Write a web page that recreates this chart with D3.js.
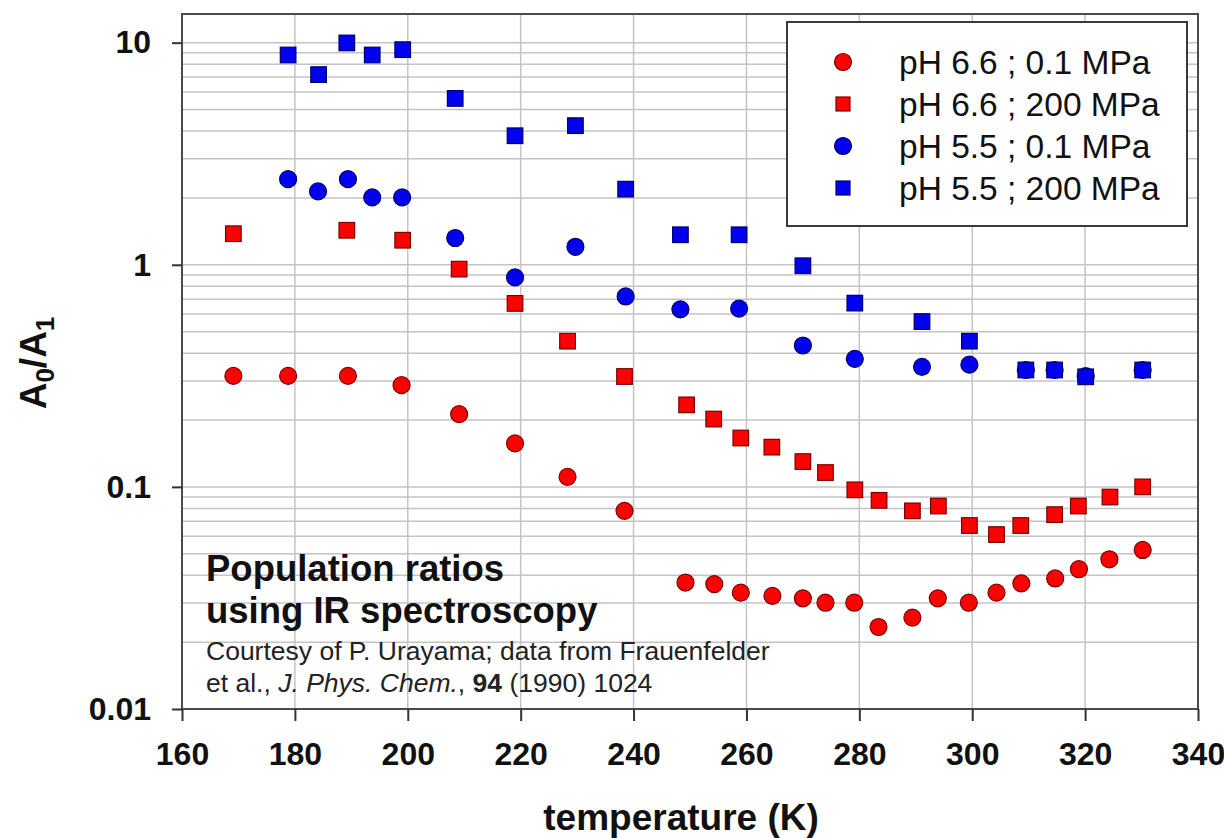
<!DOCTYPE html>
<html>
<head>
<meta charset="utf-8">
<script src="https://cdn.jsdelivr.net/npm/d3@7"></script>
<style>
  body { margin: 0; background: #fff; }
  svg { font-family: "Liberation Sans", Arial, sans-serif; }
</style>
</head>
<body>
<div id="chart"></div>
<script>
// ---- data ----
const xTicks = [160, 180, 200, 220, 240, 260, 280, 300, 320, 340];
const yTicks = [0.01, 0.1, 1, 10];
const yTickLabels = ["0.01", "0.1", "1", "10"];

const seriesNames = ["pH 6.6 ; 0.1 MPa", "pH 6.6 ; 200 MPa", "pH 5.5 ; 0.1 MPa", "pH 5.5 ; 200 MPa"];

// pH 6.6 ; 0.1 MPa (red circles)
const redCircleT = [169.1, 178.8, 189.4, 198.9, 209.1, 219.0, 228.3, 238.4, 249.2, 254.3, 259.0, 264.6, 270.0, 274.0, 279.1, 283.4, 289.4, 293.9, 299.4, 304.3, 308.7, 314.7, 318.9, 324.3, 330.2];
const redCircleV = [0.316, 0.316, 0.316, 0.287, 0.2125, 0.157, 0.111, 0.078, 0.0371, 0.0365, 0.0334, 0.0323, 0.0315, 0.0301, 0.0301, 0.0234, 0.0258, 0.0315, 0.0301, 0.0334, 0.0368, 0.0387, 0.0426, 0.0472, 0.052];

// pH 6.6 ; 200 MPa (red squares)
const redSquareT = [169.1, 189.2, 199.1, 209.1, 219.0, 228.3, 238.4, 249.4, 254.2, 259.0, 264.5, 270.0, 274.0, 279.2, 283.5, 289.4, 294.0, 299.5, 304.3, 308.6, 314.6, 318.8, 324.4, 330.2];
const redSquareV = [1.38, 1.43, 1.29, 0.956, 0.67, 0.453, 0.314, 0.234, 0.202, 0.166, 0.151, 0.130, 0.116, 0.097, 0.087, 0.078, 0.082, 0.067, 0.061, 0.067, 0.075, 0.082, 0.090, 0.100];

// pH 5.5 ; 0.1 MPa (blue circles)
const blueCircleT = [178.8, 184.1, 189.4, 193.7, 199.0, 208.4, 219.0, 229.7, 238.6, 248.3, 258.7, 270.0, 279.2, 291.1, 299.5, 309.5, 314.6, 320.1, 330.2];
const blueCircleV = [2.43, 2.14, 2.43, 2.01, 2.01, 1.32, 0.877, 1.205, 0.72, 0.63, 0.635, 0.433, 0.377, 0.347, 0.355, 0.336, 0.336, 0.315, 0.336];

// pH 5.5 ; 200 MPa (blue squares)
const blueSquareT = [178.8, 184.2, 189.2, 193.7, 199.1, 208.4, 219.0, 229.7, 238.6, 248.3, 258.7, 270.0, 279.2, 291.1, 299.5, 309.5, 314.6, 320.1, 330.2];
const blueSquareV = [8.80, 7.18, 9.97, 8.80, 9.30, 5.61, 3.81, 4.23, 2.19, 1.365, 1.365, 0.99, 0.672, 0.555, 0.453, 0.336, 0.336, 0.313, 0.336];

const series = [
    { name: seriesNames[0], t: redCircleT, v: redCircleV, shape: "circle", fill: "#ff0000", stroke: "#7a0000" },
    { name: seriesNames[1], t: redSquareT, v: redSquareV, shape: "square", fill: "#ff0000", stroke: "#7a0000" },
    { name: seriesNames[2], t: blueCircleT, v: blueCircleV, shape: "circle", fill: "#0000f0", stroke: "#00006a" },
    { name: seriesNames[3], t: blueSquareT, v: blueSquareV, shape: "square", fill: "#0000f0", stroke: "#00006a" }
];

// ---- layout ----
const W = 1224, H = 838;
const plot = { left: 182, right: 1198, top: 14, bottom: 709 };

const svg = d3.select("#chart")
    .append("svg")
    .attr("width", W)
    .attr("height", H);

const x = d3.scaleLinear()
    .domain([160, 340])
    .range([plot.left, plot.right]);

const y = d3.scaleLog()
    .domain([0.01, 13.46])
    .range([plot.bottom, plot.top]);

// grid: minor log lines 1..9 in each decade, vertical lines at x ticks
const gridVals = [];
[0.01, 0.1, 1, 10].forEach(d => {
    for (let k = 1; k <= 9; k++) {
        const v = d * k;
        if (v > 0.01 && v < 13.46) gridVals.push(v);
    }
});

svg.append("g")
    .selectAll("line")
    .data(gridVals)
    .join("line")
    .attr("x1", plot.left)
    .attr("x2", plot.right)
    .attr("y1", d => y(d))
    .attr("y2", d => y(d))
    .attr("stroke", "#c4c4c4")
    .attr("stroke-width", 1.5);

svg.append("g")
    .selectAll("line")
    .data(xTicks.slice(1, -1))
    .join("line")
    .attr("x1", d => x(d))
    .attr("x2", d => x(d))
    .attr("y1", plot.top)
    .attr("y2", plot.bottom)
    .attr("stroke", "#c4c4c4")
    .attr("stroke-width", 1.5);

// frame
svg.append("rect")
    .attr("x", plot.left)
    .attr("y", plot.top)
    .attr("width", plot.right - plot.left)
    .attr("height", plot.bottom - plot.top)
    .attr("fill", "none")
    .attr("stroke", "#4a4a4a")
    .attr("stroke-width", 2);

// axes
const xAxis = d3.axisBottom(x)
    .tickValues(xTicks)
    .tickSize(12)
    .tickSizeOuter(0)
    .tickPadding(21);

const gx = svg.append("g")
    .attr("transform", `translate(0, ${plot.bottom})`)
    .call(xAxis);
gx.select(".domain").remove();
gx.selectAll(".tick line").attr("stroke", "#333").attr("stroke-width", 2);
gx.selectAll(".tick text")
    .attr("font-size", 32)
    .attr("font-weight", "bold")
    .attr("font-family", "Liberation Sans, Arial, sans-serif")
    .attr("fill", "#111");

const yAxis = d3.axisLeft(y)
    .tickValues(yTicks)
    .tickFormat((d, i) => yTickLabels[i])
    .tickSize(10)
    .tickSizeOuter(0)
    .tickPadding(21);

const gy = svg.append("g")
    .attr("transform", `translate(${plot.left}, 0)`)
    .call(yAxis);
gy.select(".domain").remove();
gy.selectAll(".tick line").attr("stroke", "#333").attr("stroke-width", 2);
gy.selectAll(".tick text")
    .attr("font-size", 32)
    .attr("font-weight", "bold")
    .attr("font-family", "Liberation Sans, Arial, sans-serif")
    .attr("fill", "#111");

// axis titles
svg.append("text")
    .attr("x", 681)
    .attr("y", 830)
    .attr("text-anchor", "middle")
    .attr("font-size", 37)
    .attr("font-weight", "bold")
    .attr("fill", "#111")
    .text("temperature (K)");

const yTitle = svg.append("text")
    .attr("transform", "translate(46, 363) rotate(-90)")
    .attr("text-anchor", "middle")
    .attr("font-size", 37)
    .attr("font-weight", "bold")
    .attr("fill", "#111");
yTitle.append("tspan").text("A");
yTitle.append("tspan").attr("font-size", 26).attr("dy", 8).text("0");
yTitle.append("tspan").attr("dy", -8).text("/A");
yTitle.append("tspan").attr("font-size", 26).attr("dy", 8).text("1");

// annotation
const note = svg.append("g").attr("fill", "#111");
note.append("text")
    .attr("x", 206).attr("y", 581)
    .attr("font-size", 36.5).attr("font-weight", "bold")
    .text("Population ratios");
note.append("text")
    .attr("x", 206).attr("y", 623)
    .attr("font-size", 36.5).attr("font-weight", "bold")
    .text("using IR spectroscopy");
note.append("text")
    .attr("x", 206).attr("y", 660)
    .attr("font-size", 26.5)
    .attr("fill", "#222")
    .text("Courtesy of P. Urayama; data from Frauenfelder");
const cite = note.append("text")
    .attr("x", 206).attr("y", 692)
    .attr("font-size", 26.5)
    .attr("fill", "#222");
cite.append("tspan").text("et al., ");
cite.append("tspan").attr("font-style", "italic").text("J. Phys. Chem.");
cite.append("tspan").text(", ");
cite.append("tspan").attr("font-weight", "bold").text("94");
cite.append("tspan").text(" (1990) 1024");

// markers
function drawMarker(g, shape, cx, cy, r, fill, stroke) {
    if (shape === "circle") {
        g.append("circle")
            .attr("cx", cx).attr("cy", cy).attr("r", r)
            .attr("fill", fill).attr("stroke", stroke).attr("stroke-width", 1.2);
    } else {
        g.append("rect")
            .attr("x", cx - r).attr("y", cy - r)
            .attr("width", 2 * r).attr("height", 2 * r)
            .attr("fill", fill).attr("stroke", stroke).attr("stroke-width", 1.2);
    }
}

series.forEach(s => {
    const g = svg.append("g");
    s.t.forEach((t, i) => {
        const r = s.shape === "circle" ? 8.5 : 7.8;
        drawMarker(g, s.shape, x(t), y(s.v[i]), r, s.fill, s.stroke);
    });
});

// legend
const legend = svg.append("g");
legend.append("rect")
    .attr("x", 787).attr("y", 22)
    .attr("width", 400).attr("height", 204)
    .attr("fill", "#fff")
    .attr("stroke", "#3a3a3a")
    .attr("stroke-width", 2);

series.forEach((s, i) => {
    const cy = 62 + i * 42;
    const r = s.shape === "circle" ? 8.5 : 7;
    drawMarker(legend, s.shape, 843, cy, r, s.fill, s.stroke);
    legend.append("text")
        .attr("x", 899)
        .attr("y", cy + 12)
        .attr("font-size", 33.5)
        .attr("fill", "#111")
        .text(s.name);
});
</script>
</body>
</html>
